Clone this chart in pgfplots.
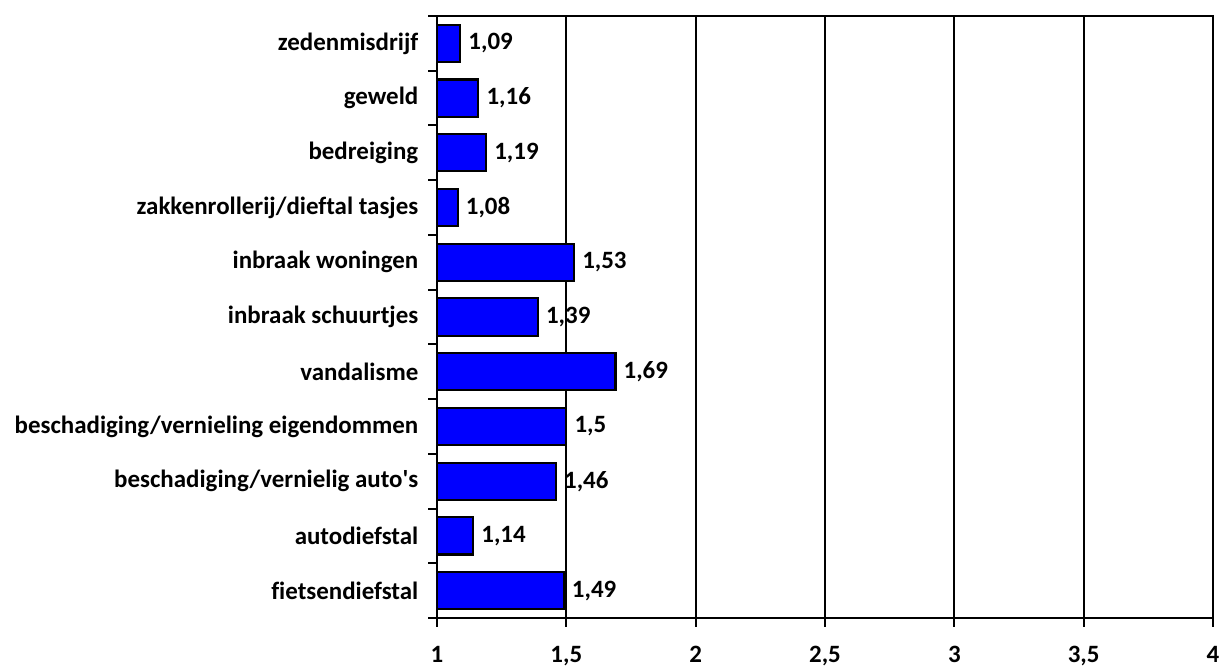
\documentclass[border=0pt]{standalone}
\usepackage{fontspec}
\setmainfont{Carlito}[Ligatures={TeX,NoCommon}]
\usepackage{pgfplots}
\pgfplotsset{compat=1.18}
\definecolor{barblue}{RGB}{0,0,255}

\begin{document}
\begin{tikzpicture}[x=0.75pt,y=0.75pt]
\begin{axis}[
    name=ax,
    scale only axis,
    width=582pt, height=451.5pt,
    xbar, bar width=0.68,
    xmin=1, xmax=4,
    ymin=-0.5, ymax=10.5,
    y dir=reverse,
    xtick={1,1.5,2,2.5,3,3.5,4},
    xtick pos=bottom, ytick pos=left,
    xmajorgrids,
    grid style={black, line width=1.5pt},
    % ticks sit between the categories, labels are moved down half a row
    ytick={-0.5,0.5,...,10.5},
    yticklabels={zedenmisdrijf, geweld, bedreiging, zakkenrollerij/dieftal tasjes,
      inbraak woningen, inbraak schuurtjes, vandalisme,
      beschadiging/vernieling eigendommen, beschadiging/vernielig auto\textquotesingle s,
      autodiefstal, fietsendiefstal, {}},
    y tick label style={yshift=-20.52pt, xshift=-4pt},
    tick align=outside,
    major tick length=6.5pt,
    tick style={black, line width=1.5pt},
    axis line style={line width=2.2pt},
    tick label style={font=\fontsize{18.7}{22}\selectfont\bfseries},
    /pgf/number format/assume math mode=true,
    /pgf/number format/use comma,
    x tick label style={yshift=-11pt},
    nodes near coords,
    nodes near coords align={horizontal},
    every node near coord/.append style={font=\fontsize{18.7}{22}\selectfont\bfseries, xshift=2pt},
]
\addplot[fill=barblue, draw=black, line width=1.6pt] coordinates {
    (1.09,0)
    (1.16,1)
    (1.19,2)
    (1.08,3)
    (1.53,4)
    (1.39,5)
    (1.69,6)
    (1.5,7)
    (1.46,8)
    (1.14,9)
    (1.49,10)
};
\end{axis}
\pgfresetboundingbox
\path (ax.south west) ++(-437,-49) coordinate (bl);
\path (ax.north east) ++(8,16) coordinate (tr);
\path[use as bounding box] (bl) rectangle (tr);
\end{tikzpicture}
\end{document}
